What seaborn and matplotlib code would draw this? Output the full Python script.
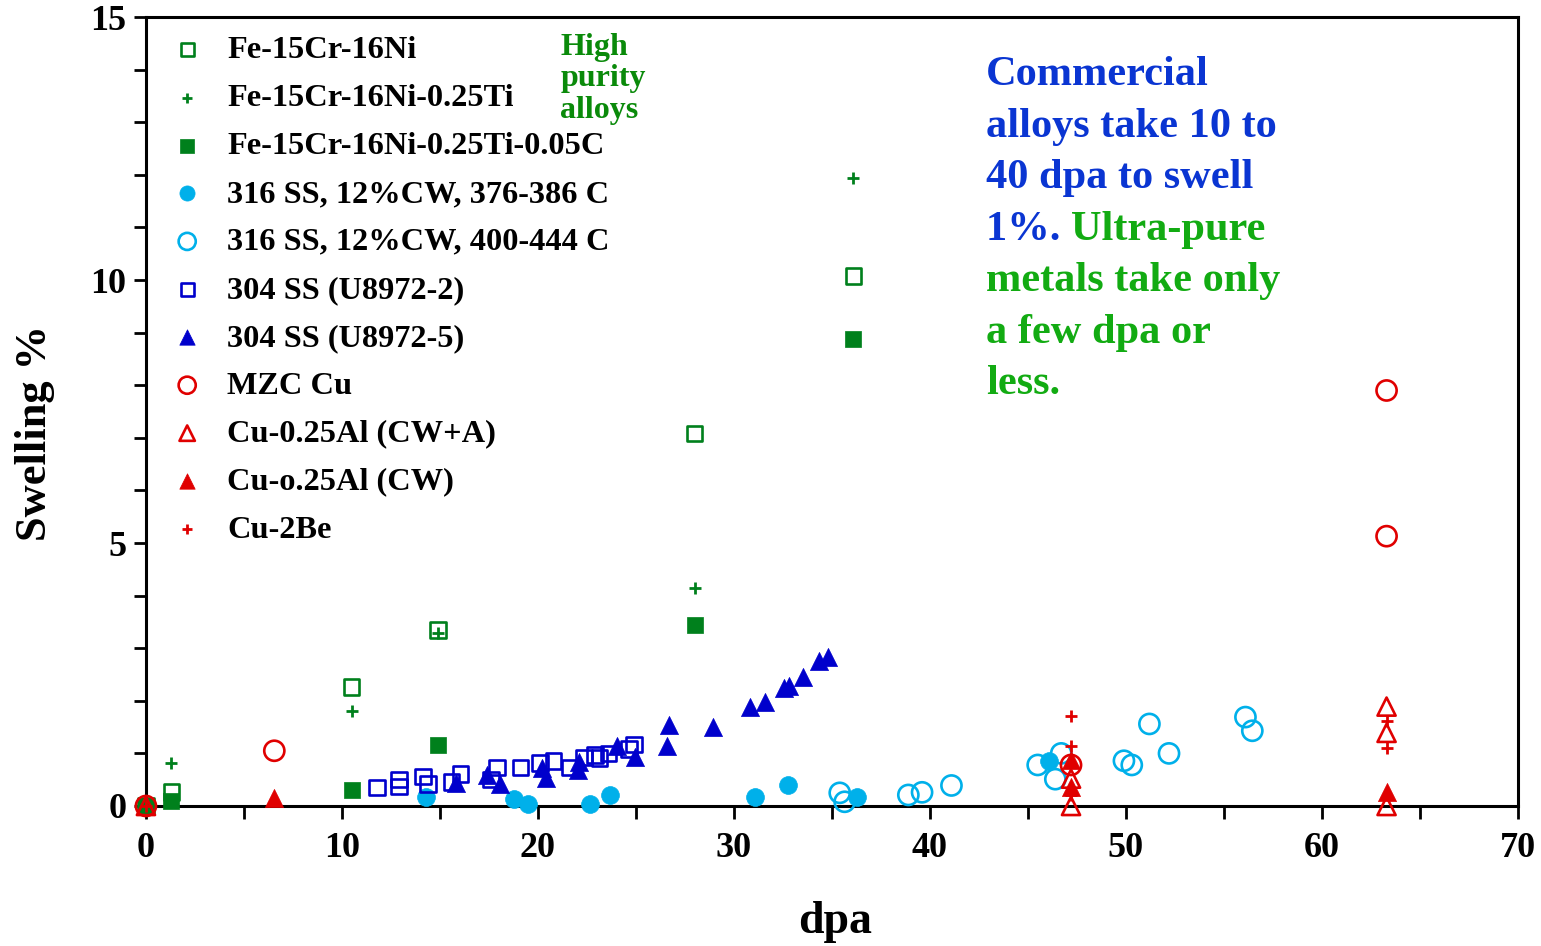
import matplotlib
matplotlib.use("Agg")
import matplotlib.pyplot as plt
import seaborn as sns
from matplotlib.ticker import MultipleLocator

# --- data: dose (dpa) and swelling (%) for each alloy ---
fe_ni_x = [0, 1.3, 10.5, 14.9, 28.0, 36.1]
fe_ni_y = [0, 0.27, 2.26, 3.35, 7.08, 10.08]

fe_ni_ti_x = [0, 1.3, 10.5, 14.9, 28.0, 36.1]
fe_ni_ti_y = [0, 0.82, 1.81, 3.29, 4.14, 11.94]

fe_ni_ti_c_x = [0, 1.3, 10.5, 14.9, 28.0, 36.1]
fe_ni_ti_c_y = [0, 0.1, 0.3, 1.16, 3.44, 8.88]

ss316_low_x = [14.3, 18.8, 19.5, 22.65, 23.7, 31.1, 32.75, 36.3, 46.1]
ss316_low_y = [0.17, 0.13, 0.04, 0.04, 0.21, 0.17, 0.39, 0.17, 0.86]

ss316_high_x = [35.4, 35.65, 38.9, 39.6, 41.1, 45.5, 46.4, 46.7, 49.9, 50.3,
                51.2, 52.2, 56.1, 56.45]
ss316_high_y = [0.25, 0.08, 0.21, 0.26, 0.39, 0.78, 0.51, 1.0, 0.86, 0.78,
                1.56, 1.0, 1.69, 1.43]

ss304_2_x = [11.8, 12.9, 12.9, 14.15, 14.4, 15.6, 16.05, 17.6, 17.9, 19.1,
             20.1, 20.8, 21.6, 22.35, 22.9, 23.15, 23.6, 24.65, 24.9]
ss304_2_y = [0.35, 0.5, 0.37, 0.56, 0.42, 0.46, 0.61, 0.5, 0.73, 0.73,
             0.82, 0.86, 0.73, 0.92, 0.97, 0.91, 1.0, 1.08, 1.17]

ss304_5_x = [15.8, 17.4, 18.05, 20.2, 20.4, 22.05, 22.1, 24.05, 24.95, 26.6,
             26.7, 28.95, 30.8, 31.6, 32.55, 32.8, 33.5, 34.35, 34.8]
ss304_5_y = [0.44, 0.59, 0.41, 0.72, 0.53, 0.68, 0.83, 1.15, 0.94, 1.15,
             1.54, 1.51, 1.89, 1.98, 2.24, 2.28, 2.46, 2.76, 2.84]

mzc_cu_x = [0, 6.55, 47.2, 63.3, 63.3]
mzc_cu_y = [0, 1.05, 0.78, 7.9, 5.13]

cu_al_cwa_x = [0, 47.2, 47.2, 63.3, 63.3, 63.3]
cu_al_cwa_y = [0, 0.52, 0.0, 1.89, 1.39, 0.0]

cu_al_cw_x = [6.55, 47.2, 47.2, 63.3]
cu_al_cw_y = [0.15, 0.87, 0.37, 0.27]

cu_be_x = [0, 47.2, 47.2, 47.2, 63.3, 63.3]
cu_be_y = [0, 1.71, 1.14, 0.21, 1.62, 1.1]

labels = [
    "Fe-15Cr-16Ni",
    "Fe-15Cr-16Ni-0.25Ti",
    "Fe-15Cr-16Ni-0.25Ti-0.05C",
    "316 SS, 12%CW, 376-386 C",
    "316 SS, 12%CW, 400-444 C",
    "304 SS (U8972-2)",
    "304 SS (U8972-5)",
    "MZC Cu",
    "Cu-0.25Al (CW+A)",
    "Cu-o.25Al (CW)",
    "Cu-2Be",
]

GREEN = "#00801c"
CYAN = "#00b0ea"
BLUE = "#0000cc"
RED = "#e00000"

# (x, y, marker, colour, filled, size)
series = [
    (fe_ni_x, fe_ni_y, "s", GREEN, False, 125),
    (fe_ni_ti_x, fe_ni_ti_y, "+", GREEN, None, 85),
    (fe_ni_ti_c_x, fe_ni_ti_c_y, "s", GREEN, True, 140),
    (ss316_low_x, ss316_low_y, "o", CYAN, True, 165),
    (ss316_high_x, ss316_high_y, "o", CYAN, False, 210),
    (ss304_2_x, ss304_2_y, "s", BLUE, False, 125),
    (ss304_5_x, ss304_5_y, "^", BLUE, True, 170),
    (mzc_cu_x, mzc_cu_y, "o", RED, False, 210),
    (cu_al_cwa_x, cu_al_cwa_y, "^", RED, False, 170),
    (cu_al_cw_x, cu_al_cw_y, "^", RED, True, 170),
    (cu_be_x, cu_be_y, "+", RED, None, 85),
]

sns.set_style("ticks")
plt.rcParams["font.family"] = ["Liberation Serif", "DejaVu Serif"]
plt.rcParams["font.weight"] = "bold"
for key in ("text.color", "axes.labelcolor", "xtick.color", "ytick.color",
            "axes.edgecolor"):
    plt.rcParams[key] = "black"

fig = plt.figure(figsize=(15.41, 9.46), dpi=100)
ax = fig.add_axes([0.0947, 0.148, 0.8903, 0.834])

for (x, y, m, c, filled, s), lab in zip(series, labels):
    if filled is None:
        sns.scatterplot(x=x, y=y, marker=m, color=c, s=s, linewidth=2.0,
                        ax=ax, label=lab, clip_on=False, zorder=3)
    elif filled:
        sns.scatterplot(x=x, y=y, marker=m, color=c, edgecolor=c, s=s,
                        linewidth=0.5, ax=ax, label=lab, clip_on=False, zorder=3)
    else:
        sns.scatterplot(x=x, y=y, marker=m, color=c, facecolor="none",
                        edgecolor=c, s=s, linewidth=1.9, ax=ax, label=lab,
                        clip_on=False, zorder=3)

ax.set_xlim(0, 70)
ax.set_ylim(0, 15)
ax.xaxis.set_major_locator(MultipleLocator(10))
ax.xaxis.set_minor_locator(MultipleLocator(5))
ax.yaxis.set_major_locator(MultipleLocator(5))
ax.yaxis.set_minor_locator(MultipleLocator(1))
ax.tick_params(which="both", direction="out", width=2, length=9,
               labelsize=26, top=False, right=False, colors="black")
ax.tick_params(axis="x", which="major", pad=10)
ax.tick_params(axis="y", which="major", pad=5)
for lbl in ax.get_xticklabels() + ax.get_yticklabels():
    lbl.set_fontweight("bold")
for sp in ax.spines.values():
    sp.set_visible(True)
    sp.set_linewidth(2.2)
    sp.set_color("black")

ax.set_xlabel("dpa", fontsize=33, fontweight="bold")
ax.xaxis.label.set_va("center")
ax.xaxis.set_label_coords(0.502, -0.147)
ax.set_ylabel("Swelling %", fontsize=32, fontweight="bold")
ax.yaxis.label.set_va("center")
ax.yaxis.set_label_coords(-0.081, 0.473)

leg = ax.legend(loc="upper left", bbox_to_anchor=(0.0, 0.993), frameon=False,
                prop={"size": 23.3, "weight": "bold"}, markerscale=0.85,
                handletextpad=0.37, labelspacing=0.565, borderaxespad=0.0,
                handlelength=1.75)

ax.text(0.3021, 0.980, "High\npurity\nalloys", transform=ax.transAxes,
        fontsize=23, fontweight="bold", color="#0a8a0a", va="top",
        ha="left", linespacing=1.12)

blue_txt = "#0a35d2"
green_txt = "#12ab12"
note_x = 0.6125
lines = [
    ("Commercial", blue_txt),
    ("alloys take 10 to", blue_txt),
    ("40 dpa to swell", blue_txt),
    (None, None),
    ("metals take only", green_txt),
    ("a few dpa or", green_txt),
    ("less.", green_txt),
]
line_h = 51.5 / 789
y0 = 1 - (75 - 17) / 789
for i, (t, c) in enumerate(lines):
    yy = y0 - i * line_h
    if t is None:
        t1 = ax.text(note_x, yy, "1%. ", transform=ax.transAxes, fontsize=30.5,
                     fontweight="bold", color=blue_txt, va="center", ha="left")
        fig.canvas.draw()
        bb = t1.get_window_extent().transformed(ax.transAxes.inverted())
        ax.text(bb.x1, yy, "Ultra-pure", transform=ax.transAxes, fontsize=30.5,
                fontweight="bold", color=green_txt, va="center", ha="left")
    else:
        ax.text(note_x, yy, t, transform=ax.transAxes, fontsize=30.5,
                fontweight="bold", color=c, va="center", ha="left")

fig.savefig("out.png", dpi=100)
